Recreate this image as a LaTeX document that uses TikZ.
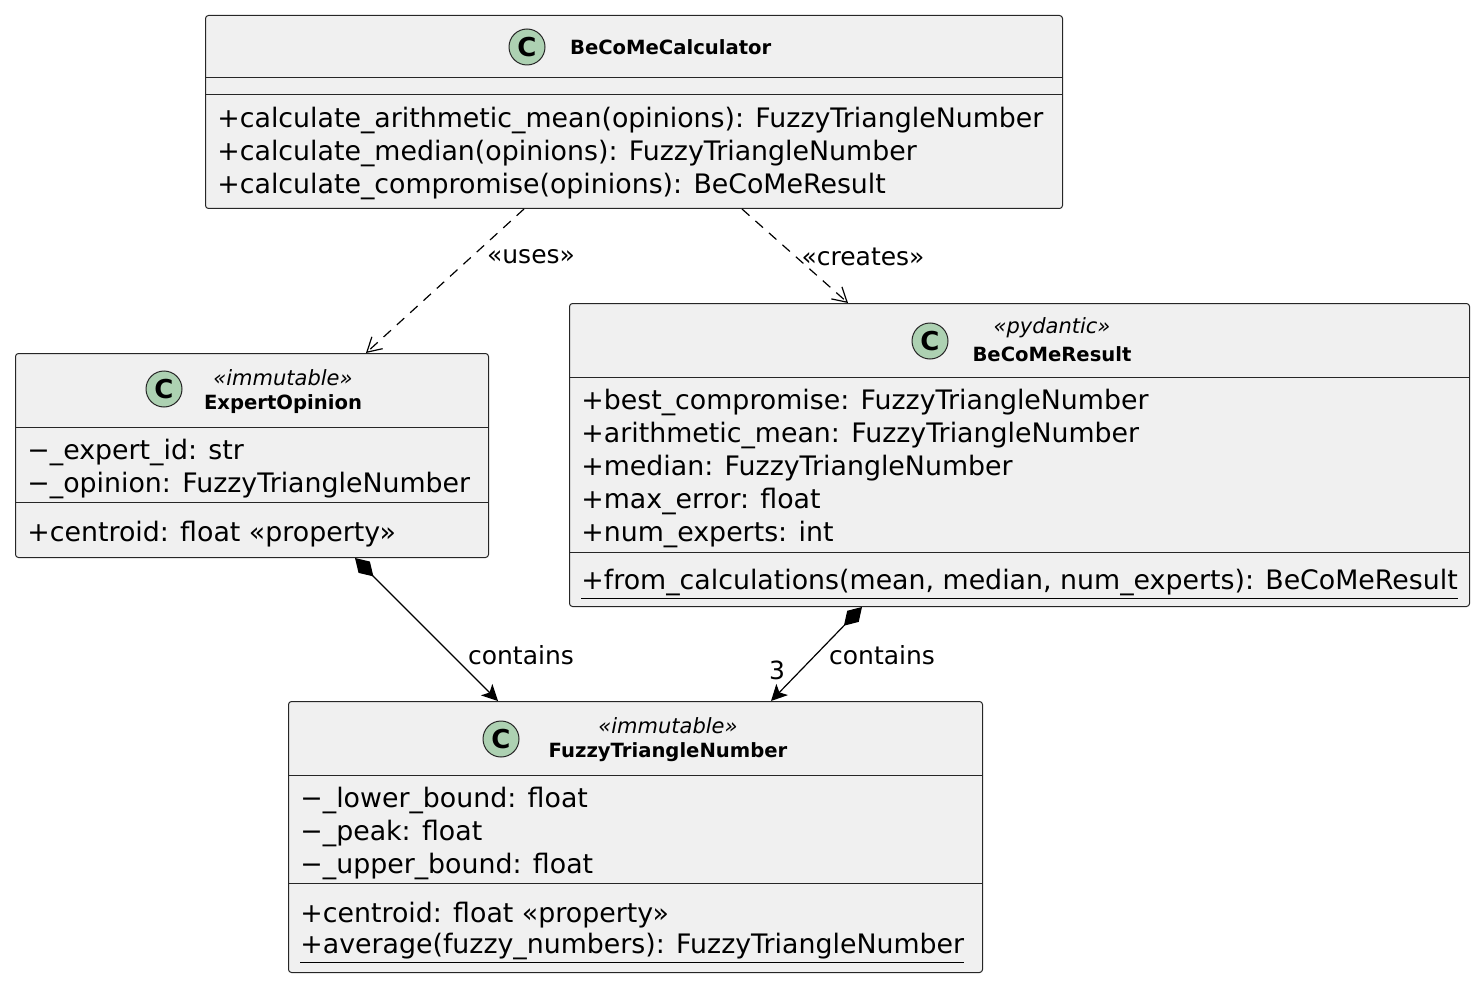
\documentclass[tikz,border=0pt]{standalone}
\usepackage{fontspec}
\setmainfont{DejaVu Sans}
\usetikzlibrary{arrows.meta}
\definecolor{iconfill}{HTML}{ADD1B2}
\begin{document}
\begin{tikzpicture}[x=0.5pt, y=-0.5pt]
    % Define styles
    \tikzset{
        classbox/.style={draw=black!85, fill=black!6, rounded corners=1.5pt, line width=0.5pt, anchor=north west, inner sep=0pt},
        cicon/.style={circle, draw=black!85, fill=iconfill, line width=0.5pt, minimum size=18pt, inner sep=0pt, font=\bfseries\fontsize{13}{13}\selectfont},
        cname/.style={font=\bfseries\fontsize{9.8}{10}\selectfont},
        stereo/.style={font=\itshape\fontsize{10.5}{11}\selectfont},
        member/.style={anchor=west, inner sep=0pt, font=\fontsize{13.4}{15}\selectfont},
        sep/.style={draw=black!85, line width=0.5pt},
        dep/.style={dashed, dash pattern=on 5pt off 4pt, line width=0.6pt, -{Straight Barb[length=7pt, width=8pt]}},
        comp/.style={line width=0.6pt, {Diamond[length=13pt, width=8pt]}-{Stealth[length=8pt, width=8pt, inset=2pt]}},
        lbl/.style={font=\fontsize{12.5}{14}\selectfont, inner sep=0pt}
    }
    \useasboundingbox (0,0) rectangle (1481,984);

    % BeCoMeCalculator
    \node[classbox, minimum width=428.5pt, minimum height=96.5pt] (calc) at (205,15) {};
    \node[cicon] (calcicon) at (527,47) {C};
    \node[cname, anchor=west] (calcname) at (563,47) {BeCoMeCalculator};
    \draw[sep] (205,78) -- (1062,78);
    \draw[sep] (205,95) -- (1062,95);
    \node[member] (calcm1) at (217,120) {+calculate\_arithmetic\_mean(opinions): FuzzyTriangleNumber};
    \node[member] (calcm2) at (217,153) {+calculate\_median(opinions): FuzzyTriangleNumber};
    \node[member] (calcm3) at (217,186) {+calculate\_compromise(opinions): BeCoMeResult};

    % ExpertOpinion
    \node[classbox, minimum width=236.5pt, minimum height=102pt] (expert) at (15,353) {};
    \node[cicon] (experticon) at (164,389) {C};
    \node[stereo] (expertst) at (283,378) {«immutable»};
    \node[cname] (expertname) at (283,404) {ExpertOpinion};
    \draw[sep] (15,427) -- (488,427);
    \node[member] (experta1) at (27,452) {−\_expert\_id: str};
    \node[member] (experta2) at (27,485) {−\_opinion: FuzzyTriangleNumber};
    \draw[sep] (15,502) -- (488,502);
    \node[member] (expertm1) at (27,534) {+centroid: float «property»};

    % BeCoMeResult
    \node[classbox, minimum width=450pt, minimum height=151.5pt] (result) at (569,303) {};
    \node[cicon] (resulticon) at (930,341) {C};
    \node[stereo] (resultst) at (1052,328) {«pydantic»};
    \node[cname] (resultname) at (1052,354) {BeCoMeResult};
    \draw[sep] (569,377) -- (1469,377);
    \node[member] (resulta1) at (581,402) {+best\_compromise: FuzzyTriangleNumber};
    \node[member] (resulta2) at (581,435) {+arithmetic\_mean: FuzzyTriangleNumber};
    \node[member] (resulta3) at (581,468) {+median: FuzzyTriangleNumber};
    \node[member] (resulta4) at (581,501) {+max\_error: float};
    \node[member] (resulta5) at (581,534) {+num\_experts: int};
    \draw[sep] (569,552) -- (1469,552);
    \node[member] (resultm1) at (581,584) {\underline{+from\_calculations(mean, median, num\_experts): BeCoMeResult}};

    % FuzzyTriangleNumber
    \node[classbox, minimum width=347pt, minimum height=135.5pt] (fuzzy) at (288,701) {};
    \node[cicon] (fuzzyicon) at (501,739) {C};
    \node[stereo] (fuzzyst) at (668,726) {«immutable»};
    \node[cname] (fuzzyname) at (668,752) {FuzzyTriangleNumber};
    \draw[sep] (288,775) -- (982,775);
    \node[member] (fuzzya1) at (300,800) {−\_lower\_bound: float};
    \node[member] (fuzzya2) at (300,833) {−\_peak: float};
    \node[member] (fuzzya3) at (300,866) {−\_upper\_bound: float};
    \draw[sep] (288,883) -- (982,883);
    \node[member] (fuzzym1) at (300,915) {+centroid: float «property»};
    \node[member] (fuzzym2) at (300,948) {\underline{+average(fuzzy\_numbers): FuzzyTriangleNumber}};

    % Relations
    \draw[dep] ([xshift=159.5pt]calc.south west) -- ([xshift=175.5pt]expert.north west);
    \draw[dep] ([xshift=268.5pt]calc.south west) -- ([xshift=139.5pt]result.north west);
    \draw[comp] ([xshift=170pt]expert.south west) -- ([xshift=105pt]fuzzy.north west);
    \draw[comp] ([xshift=146.5pt]result.south west) -- ([xshift=241.5pt]fuzzy.north west);

    % Labels
    \node[lbl] (useslbl) at (531,257) {«uses»};
    \node[lbl] (createslbl) at (863,257) {«creates»};
    \node[lbl] (contains1lbl) at (521,655) {contains};
    \node[lbl] (contains2lbl) at (882,655) {contains};
    \node[lbl] (multlbl) at (777,670) {3};
\end{tikzpicture}
\end{document}
